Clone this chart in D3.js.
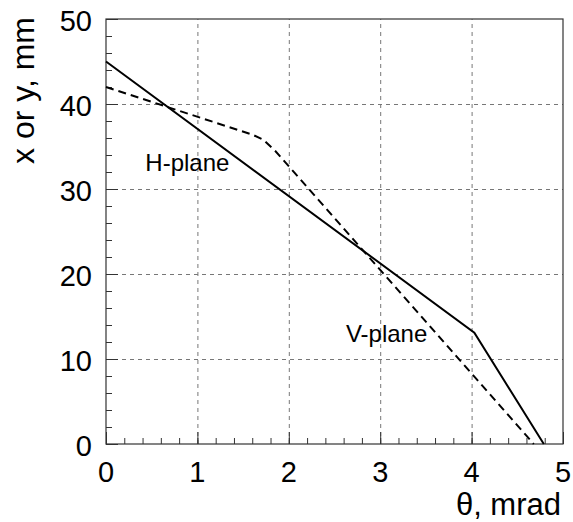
<!DOCTYPE html>
<html>
<head>
<meta charset="utf-8">
<script src="https://cdn.jsdelivr.net/npm/d3@7/dist/d3.min.js"></script>
<style>
  body { margin: 0; background: white; }
  svg { display: block; font-family: "Liberation Sans", Arial, sans-serif; }
</style>
</head>
<body>
<div id="chart"></div>
<script>
const thetaH = [0, 4.03, 4.79];
const posH = [45, 13.1, 0];
const thetaV = [0, 1.6, 1.72, 1.85, 4.68];
const posV = [42, 36.4, 35.8, 34.5, 0];
const xTicks = [0, 1, 2, 3, 4, 5];
const yTicks = [0, 10, 20, 30, 40, 50];
const labels = [
  {text: 'H-plane', x: 0.89, y: 32.1},
  {text: 'V-plane', x: 3.07, y: 12}
];

const width = 573;
const height = 522;
const margin = {left: 106, right: 10, top: 19, bottom: 78};
const innerW = width - margin.left - margin.right;
const innerH = height - margin.top - margin.bottom;
const frameColor = '#333333';
const gridColor = '#777777';

const svg = d3.select('#chart')
  .append('svg')
  .attr('width', width)
  .attr('height', height);

const g = svg.append('g')
  .attr('transform', `translate(${margin.left}, ${margin.top})`);

const xScale = d3.scaleLinear().domain([0, 5]).range([0, innerW]);
const yScale = d3.scaleLinear().domain([0, 50]).range([innerH, 0]);

// grid
const xGrid = g.append('g')
  .attr('transform', `translate(0, ${innerH})`)
  .call(d3.axisBottom(xScale).tickValues(xTicks.slice(1, -1)).tickSize(-innerH).tickFormat(''));
const yGrid = g.append('g')
  .call(d3.axisLeft(yScale).tickValues(yTicks.slice(1, -1)).tickSize(-innerW).tickFormat(''));
[xGrid, yGrid].forEach(el => {
  el.select('.domain').remove();
  el.selectAll('line')
    .attr('stroke', gridColor)
    .attr('stroke-width', 1)
    .attr('stroke-dasharray', '4,4');
});

// minor + major ticks
const xMinor = g.append('g')
  .attr('transform', `translate(0, ${innerH})`)
  .call(d3.axisBottom(xScale).tickValues(d3.range(0, 51, 2).map(d => d / 10)).tickSize(-6).tickFormat(''));
const yMinor = g.append('g')
  .call(d3.axisLeft(yScale).tickValues(d3.range(0, 51, 2)).tickSize(-6).tickFormat(''));
const xMajor = g.append('g')
  .attr('transform', `translate(0, ${innerH})`)
  .call(d3.axisBottom(xScale).tickValues(xTicks).tickSize(-12).tickFormat(''));
const yMajor = g.append('g')
  .call(d3.axisLeft(yScale).tickValues(yTicks).tickSize(-12).tickFormat(''));
[xMinor, yMinor, xMajor, yMajor].forEach(el => {
  el.select('.domain').remove();
  el.selectAll('line').attr('stroke', frameColor).attr('stroke-width', 1);
});

// frame
g.append('rect')
  .attr('x', 0)
  .attr('y', 0)
  .attr('width', innerW)
  .attr('height', innerH)
  .attr('fill', 'none')
  .attr('stroke', frameColor)
  .attr('stroke-width', 1.2);

// tick labels
g.append('g')
  .selectAll('text')
  .data(xTicks)
  .join('text')
  .attr('x', d => xScale(d))
  .attr('y', innerH + 38)
  .attr('text-anchor', 'middle')
  .style('font-size', '29px')
  .text(d => d);

g.append('g')
  .selectAll('text')
  .data(yTicks)
  .join('text')
  .attr('x', -14)
  .attr('y', d => yScale(d) + 12)
  .attr('text-anchor', 'end')
  .style('font-size', '29px')
  .text(d => d);

// axis titles
svg.append('text')
  .attr('x', 561)
  .attr('y', 515)
  .attr('text-anchor', 'end')
  .style('font-size', '31px')
  .text('θ, mrad');

svg.append('text')
  .attr('transform', 'translate(34, 17) rotate(-90)')
  .attr('text-anchor', 'end')
  .style('font-size', '32px')
  .text('x or y, mm');

// curves
const line = d3.line()
  .x(d => xScale(d[0]))
  .y(d => yScale(d[1]));

g.append('path')
  .datum(d3.zip(thetaH, posH))
  .attr('fill', 'none')
  .attr('stroke', 'black')
  .attr('stroke-width', 2)
  .attr('d', line);

g.append('path')
  .datum(d3.zip(thetaV, posV))
  .attr('fill', 'none')
  .attr('stroke', 'black')
  .attr('stroke-width', 2)
  .attr('stroke-dasharray', '8,5')
  .attr('d', line);

g.append('g')
  .selectAll('text')
  .data(labels)
  .join('text')
  .attr('x', d => xScale(d.x))
  .attr('y', d => yScale(d.y))
  .attr('text-anchor', 'middle')
  .style('font-size', '24px')
  .text(d => d.text);
</script>
</body>
</html>
